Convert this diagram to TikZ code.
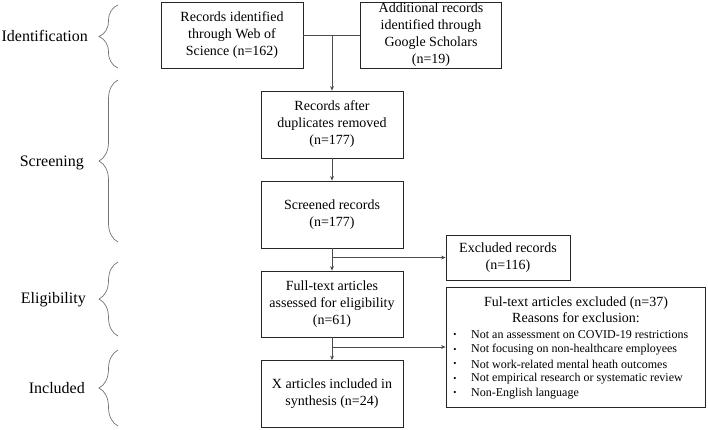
\documentclass[tikz,border=0pt]{standalone}
\usepackage{fontspec}
\setmainfont{Liberation Serif}
\usetikzlibrary{arrows.meta,decorations.pathreplacing}
\begin{document}
\begin{tikzpicture}[x=1pt,y=-1pt,
  box/.style={draw=black!85, line width=0.8pt, align=center, inner sep=0pt,
    font=\fontsize{14}{17}\selectfont},
  conn/.style={draw=black!70, line width=0.7pt},
  arr/.style={conn, -{Stealth[length=4.5pt,width=3.8pt]}},
  brc/.style={draw=black!55, line width=0.7pt, decorate,
    decoration={brace, amplitude=19pt}},
  lab/.style={font=\fontsize{16}{19}\selectfont, anchor=east, inner sep=0pt},
  bul/.style={font=\fontsize{9}{10}\selectfont, inner sep=0pt},
  item/.style={font=\fontsize{12}{14}\selectfont, anchor=west, inner sep=0pt}]
\useasboundingbox (0,0) rectangle (708,429);

% boxes
\node[box, minimum width=142pt, minimum height=66pt] (b1) at (232,35)
  {Records identified\\through Web of\\Science (n=162)};
\node[box, minimum width=141pt, minimum height=66pt] (b2) at (431,35)
  {Additional records\\identified through\\Google Scholars\\(n=19)};
\node[box, minimum width=142pt, minimum height=67pt] (b3) at (332,124.5)
  {Records after\\duplicates removed\\(n=177)};
\node[box, minimum width=142pt, minimum height=67pt] (b4) at (332,214.5)
  {Screened records\\(n=177)};
\node[box, minimum width=142pt, minimum height=66pt] (b5) at (332,304)
  {Full-text articles\\assessed for eligibility\\(n=61)};
\node[box, minimum width=142pt, minimum height=67pt] (b6) at (332,394)
  {X articles included in\\synthesis (n=24)};
\node[box, minimum width=124pt, minimum height=45pt] (exc) at (508,257.5)
  {Excluded records\\(n=116)};
\node[box, minimum width=259pt, minimum height=120pt] (rsn) at (575.5,347) {};

% reasons text
\node[font=\fontsize{14}{15.5}\selectfont, align=center, inner sep=0pt] (rh) at (576,309.5)
  {Ful-text articles excluded (n=37)\\Reasons for exclusion:};
\node[bul] (d1) at (455,335) {\textbullet};
\node[bul] (d2) at (455,350) {\textbullet};
\node[bul] (d3) at (455,364.5) {\textbullet};
\node[bul] (d4) at (455,379) {\textbullet};
\node[bul] (d5) at (455,393.5) {\textbullet};
\node[item] (i1) at (471,335) {Not an assessment on COVID-19 restrictions};
\node[item] (i2) at (471,350) {Not focusing on non-healthcare employees};
\node[item] (i3) at (471,364.5) {Not work-related mental heath outcomes};
\node[item] (i4) at (471,379) {Not empirical research or systematic review};
\node[item] (i5) at (471,393.5) {Non-English language};

% connectors
\coordinate (j1) at (b3.north |- b1.east);
\coordinate (j2) at (b4.south |- exc.west);
\coordinate (j3) at (b5.south |- rsn.west);
\draw[conn] (b1.east) -- (b2.west);
\draw[arr] (j1) -- (b3.north);
\draw[arr] (b3.south) -- (b4.north);
\draw[arr] (b4.south) -- (b5.north);
\draw[arr] (b5.south) -- (b6.north);
\draw[arr] (j2) -- (exc.west);
\draw[arr] (j3) -- (rsn.west);

% braces and stage labels
\draw[brc] (118,68) -- (118,5);
\draw[brc] (118,242) -- (118,80);
\draw[brc] (118,336) -- (118,262);
\draw[brc] (118,426) -- (118,350);
\node[lab] (l1) at (88,36) {Identification};
\node[lab] (l2) at (84,163) {Screening};
\node[lab] (l3) at (86,300) {Eligibility};
\node[lab] (l4) at (85,388) {Included};
\end{tikzpicture}
\end{document}
